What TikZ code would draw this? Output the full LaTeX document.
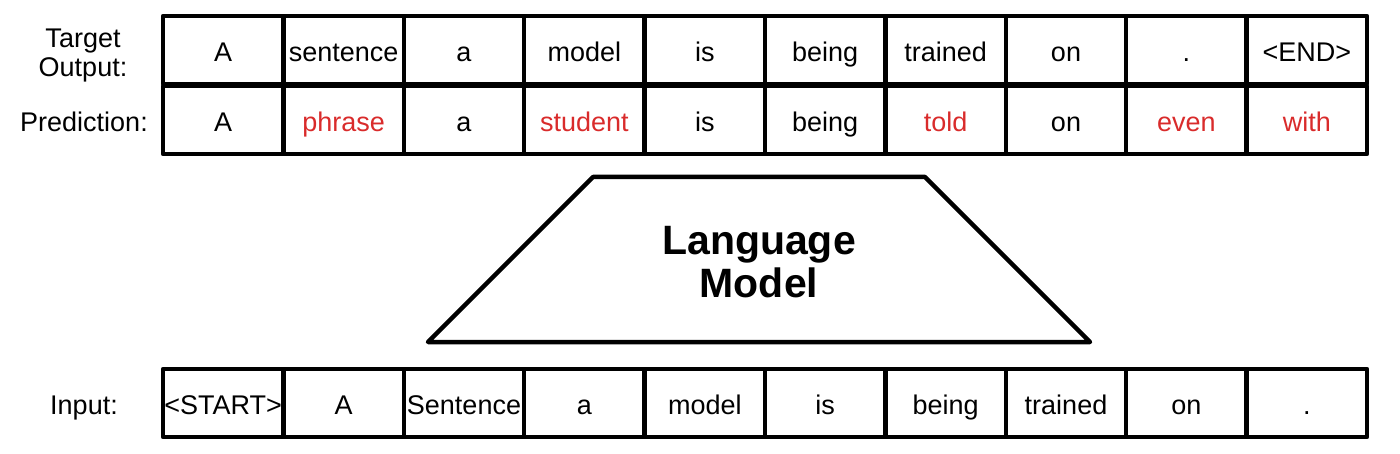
\documentclass[tikz,border=0pt]{standalone}
\usepackage{fontspec}
\setmainfont{Liberation Sans}
\usetikzlibrary{
  positioning,
  calc
}
\definecolor{lmWrong}{HTML}{D92B2B}
\tikzset{
  cell/.style={
    draw, line width=4.5pt, line join=round, outer sep=0pt, inner sep=0pt,
    minimum width=120.4pt, minimum height=68pt,
    text height=23.6pt, text depth=0pt, font=\fontsize{27}{29}\selectfont
  },
  rowlabel/.style={inner sep=0pt, align=center, font=\fontsize{27}{29}\selectfont},
  onelabel/.style={rowlabel, text height=23.6pt, text depth=0pt},
  lmtext/.style={inner sep=0pt, align=center, font=\fontsize{41}{43}\selectfont\bfseries},
  lmline/.style={draw, line width=4.5pt, line join=round}
}
\begin{document}
\begin{tikzpicture}
  \useasboundingbox (0,0) rectangle (1400pt,453pt);
  % target row
  \foreach \w [count=\i] in {A,sentence,a,model,is,being,trained,on,.,<END>}
    \node[cell] (out\i) at ({163pt+(\i-0.5)*120.4pt},403pt) {\w};
  % prediction row, wrong words in red
  \foreach \w/\c [count=\i] in {A/black,phrase/lmWrong,a/black,student/lmWrong,is/black,being/black,told/lmWrong,on/black,even/lmWrong,with/lmWrong}
    \node[cell, text=\c] (pred\i) at ({163pt+(\i-0.5)*120.4pt},333pt) {\w};
  % input row
  \foreach \w [count=\i] in {<START>,A,Sentence,a,model,is,being,trained,on,.}
    \node[cell] (in\i) at ({163pt+(\i-0.5)*120.4pt},50pt) {\w};
  \node[rowlabel] (lblout) at (83pt,397pt) {Target\\Output:};
  \node[onelabel] (lblpred) at (84pt,333pt) {Prediction:};
  \node[onelabel] (lblin) at (84pt,50pt) {Input:};
  % the model
  \node[lmtext] (lm) at (759pt,190.5pt) {Language\\Model};
  \draw[lmline] ($(lm.center)+(-331pt,-79.5pt)$) -- ++(662pt,0pt) -- ++(-165pt,165pt)
    -- ++(-332pt,0pt) -- cycle;
\end{tikzpicture}
\end{document}
